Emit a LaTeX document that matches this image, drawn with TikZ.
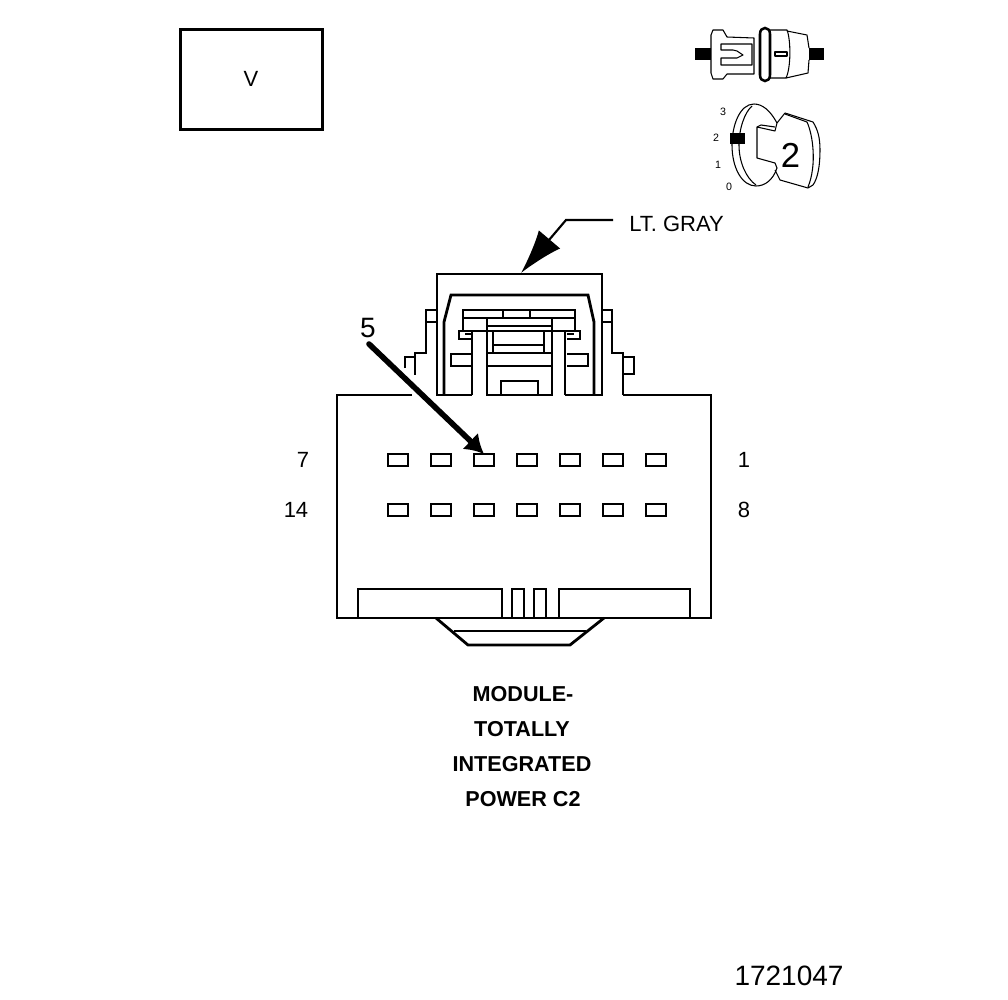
\documentclass[tikz,border=0pt]{standalone}
\usepackage{fontspec}
\setmainfont{Liberation Sans}
\usetikzlibrary{arrows.meta, positioning}

\begin{document}
\begin{tikzpicture}[x=0.75pt, y=-0.75pt, node distance=17.25pt]

% Define styles
\tikzstyle{pinbox} = [rectangle, draw=black, line width=1.7pt, minimum width=15pt, minimum height=9pt, inner sep=0pt, outer sep=0pt]
\tikzstyle{label} = [inner sep=0pt, font=\fontsize{16.5}{18}\selectfont]
\tikzstyle{title} = [inner sep=0pt, font=\fontsize{16.2}{18}\selectfont\bfseries]
\tikzstyle{big} = [inner sep=0pt, font=\fontsize{21}{24}\selectfont]
\tikzstyle{tiny} = [inner sep=0pt, font=\fontsize{8}{10}\selectfont]
\tikzstyle{heavy} = [draw=black, line width=2.1pt, line join=miter]
\tikzstyle{thin} = [draw=black, line width=0.8pt, line join=round]
\tikzstyle{pointer} = [draw=black, line width=4.2pt, line cap=round, -{Latex[length=14pt, width=17pt]}]
\tikzstyle{leader} = [draw=black, line width=1.6pt, -{Latex[length=33pt, width=21pt]}]

\useasboundingbox (0,0) rectangle (1008,1000);

% View box
\node [rectangle, draw=black, line width=2.2pt, minimum width=106pt, minimum height=75pt, inner sep=0pt] (viewbox) at (251.5,79.5) {};
\node [label] (viewlabel) at (251,79) {V};

% Top icon
\fill [black] (695,48) rectangle (711,60);
\fill [black] (809,48) rectangle (824,60);
\draw [thin] (711,35) -- (713,30) -- (723,30) -- (727,37) -- (754,38) -- (754,74) -- (727,74) -- (723,79) -- (713,79) -- (711,73) -- cycle;
\draw [thin] (752,44) -- (721,44) -- (721,50) -- (733,50) -- (737,51) -- (743,55) -- (737,58) -- (733,58) -- (721,58) -- (721,65) -- (752,65) -- cycle;
\draw [thin] (769,30) -- (787,30) .. controls (791,40) and (791,68) .. (786,78) -- (769,78);
\draw [thin] (787,31) -- (807,35) -- (809,48);
\draw [thin] (809,60) -- (808,73) -- (786,78);
\draw [thin] (775,52) rectangle (787,56);
\draw [line width=1.9pt, fill=white] (760,34) .. controls (760,26) and (770,26) .. (770,34) -- (770,75) .. controls (770,83) and (760,83) .. (760,75) -- cycle;

% Key icon
\draw [thin] (777,123) .. controls (770,110) and (762,104) .. (754,104) .. controls (740,104) and (732,125) .. (732,145) .. controls (732,168) and (742,186) .. (756,186) .. controls (765,186) and (773,180) .. (777,168);
\draw [thin] (752,106) .. controls (745,112) and (739,128) .. (739,145) .. controls (739,162) and (746,178) .. (756,185);
\draw [thin] (777,123) -- (775,131) -- (757,127) -- (757,158) -- (775,163) -- (777,168);
\draw [thin] (757,127) -- (761,125) -- (775,127);
\draw [thin] (777,123) -- (785,113) -- (813,122) .. controls (818,130) and (820,138) .. (820,150) .. controls (820,165) and (818,178) .. (813,185) -- (808,188) -- (780,180) -- (775,170);
\draw [thin] (785,114) -- (807,122) .. controls (813,135) and (817,165) .. (808,187);
\fill [black] (730,133) rectangle (745,144);
\node [big, font=\fontsize{26}{30}\selectfont] (keynum) at (790.5,155) {2};
\node [tiny] (pos3) at (723,112) {3};
\node [tiny] (pos2) at (716,138) {2};
\node [tiny] (pos1) at (718,165) {1};
\node [tiny] (pos0) at (729,187) {0};

% Lock housing
\draw [heavy] (472,395) -- (437,395) -- (437,274) -- (602,274) -- (602,395) -- (565,395);
\draw [heavy] (444,395) -- (444,322) -- (451,295) -- (588,295) -- (594,322) -- (594,395);
\draw [heavy] (437,310) -- (426,310) -- (426,322) -- (437,322);
\draw [heavy] (426,322) -- (426,353) -- (415,353) -- (415,375);
\draw [heavy] (405,368) -- (405,357) -- (415,357);
\draw [heavy] (602,310) -- (612,310) -- (612,322) -- (602,322);
\draw [heavy] (612,322) -- (612,353) -- (623,353) -- (623,395);
\draw [heavy] (623,357) -- (634,357) -- (634,374) -- (623,374);

% Inner latch
\draw [heavy, fill=white] (463,331) -- (463,310) -- (575,310) -- (575,331);
\draw [heavy] (463,318) -- (575,318);
\draw [heavy] (503,310) -- (503,318);
\draw [heavy] (530,310) -- (530,318);
\draw [heavy] (472,339) -- (459,339) -- (459,331) -- (580,331) -- (580,339) -- (567,339);
\draw [heavy] (465,334) -- (472,334);
\draw [heavy] (567,334) -- (574,334);
\draw [heavy] (472,331) -- (472,395);
\draw [heavy] (565,331) -- (565,395);
\draw [heavy] (487,318) -- (487,395) -- (552,395) -- (552,318);
\draw [heavy] (487,326) -- (552,326);
\draw [heavy] (493,331) -- (493,353);
\draw [heavy] (544,331) -- (544,353);
\draw [heavy] (493,345) -- (544,345);
\draw [heavy] (487,353) -- (552,353);
\draw [heavy] (487,366) -- (552,366);
\draw [heavy] (501,395) -- (501,381) -- (538,381) -- (538,395);
\draw [heavy] (472,354) -- (451,354) -- (451,366) -- (472,366);
\draw [heavy] (567,354) -- (588,354) -- (588,366) -- (567,366);

% Connector body
\draw [heavy] (412,395) -- (337,395) -- (337,618) -- (711,618) -- (711,395) -- (623,395);
\draw [heavy] (358,618) -- (358,589) -- (502,589) -- (502,618);
\draw [heavy] (559,618) -- (559,589) -- (690,589) -- (690,618);
\draw [heavy] (512,618) -- (512,589) -- (524,589) -- (524,618);
\draw [heavy] (534,618) -- (534,589) -- (546,589) -- (546,618);
\draw [heavy] (436,618) -- (468,645) -- (570,645) -- (604,618);
\draw [heavy] (454,631) -- (586,631);

% Place pins
\node [pinbox] (pin7) at (398,460) {};
\node [pinbox, right=of pin7] (pin6) {};
\node [pinbox, right=of pin6] (pin5) {};
\node [pinbox, right=of pin5] (pin4) {};
\node [pinbox, right=of pin4] (pin3) {};
\node [pinbox, right=of pin3] (pin2) {};
\node [pinbox, right=of pin2] (pin1) {};
\node [pinbox, below=28.5pt of pin7] (pin14) {};
\node [pinbox, right=of pin14] (pin13) {};
\node [pinbox, right=of pin13] (pin12) {};
\node [pinbox, right=of pin12] (pin11) {};
\node [pinbox, right=of pin11] (pin10) {};
\node [pinbox, right=of pin10] (pin9) {};
\node [pinbox, right=of pin9] (pin8) {};

% Pin numbers
\node [label] (num7) at (303,460) {7};
\node [label] (num14) at (296,510) {14};
\node [label] (num1) at (744,460) {1};
\node [label] (num8) at (744,510) {8};

% Pointers
\node [big] (five) at (368,328) {5};
\coordinate (fivestart) at (369,344);
\draw [pointer] (fivestart) -- (pin5.north);
\node [label, anchor=west] (gray) at (629,224) {LT. GRAY};
\coordinate (graystart) at (613,220);
\coordinate (graybend) at (566,220);
\coordinate (grayend) at (521,273);
\draw [leader] (graystart) -- (graybend) -- (grayend);

% Title
\node [title] (line1) at (523,694) {MODULE-};
\node [title] (line2) at (522,729) {TOTALLY};
\node [title] (line3) at (522,764) {INTEGRATED};
\node [title] (line4) at (523,799) {POWER C2};

% Figure number
\node [big] (fignum) at (789,976) {1721047};

\end{tikzpicture}
\end{document}
